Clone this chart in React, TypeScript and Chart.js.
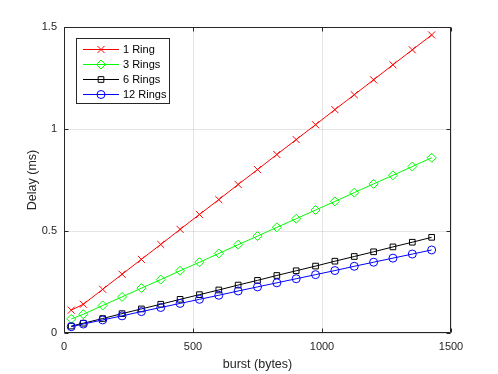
import React, { useEffect, useRef } from "react";
import { Chart, registerables } from "chart.js";
import { drawPoint } from "chart.js/helpers";

Chart.register(...registerables);

const burst = [28, 75, 150, 225, 300, 375, 450, 525, 600, 675, 750, 825, 900, 975, 1050, 1125, 1200, 1275, 1350, 1425];
const ring1 = [0.112, 0.141, 0.214, 0.288, 0.361, 0.434, 0.508, 0.581, 0.654, 0.728, 0.801, 0.875, 0.948, 1.021, 1.095, 1.168, 1.241, 1.315, 1.388, 1.461];
const ring3 = [0.069, 0.092, 0.135, 0.177, 0.22, 0.262, 0.305, 0.347, 0.39, 0.433, 0.475, 0.518, 0.56, 0.603, 0.645, 0.688, 0.731, 0.773, 0.816, 0.859];
const ring6 = [0.034, 0.048, 0.071, 0.095, 0.118, 0.141, 0.165, 0.188, 0.211, 0.235, 0.258, 0.282, 0.305, 0.328, 0.352, 0.375, 0.398, 0.422, 0.445, 0.469];
const ring12 = [0.031, 0.044, 0.064, 0.084, 0.105, 0.125, 0.145, 0.165, 0.185, 0.206, 0.226, 0.246, 0.266, 0.286, 0.306, 0.327, 0.347, 0.367, 0.387, 0.407];

const seriesLabels = ["1 Ring", "3 Rings", "6 Rings", "12 Rings"];
const xTicks = [0, 500, 1000, 1500];
const yTicks = [0, 0.5, 1, 1.5];

const FONT = "'Liberation Sans', Arial, Helvetica, sans-serif";
const AXIS = "#262626";

const frameLegendPlugin = {
  id: "frameLegend",
  afterDraw(chart: any) {
    const ctx = chart.ctx;
    const { left, right, top, bottom } = chart.chartArea;
    const xs = chart.scales.x;
    const ys = chart.scales.y;
    ctx.save();
    ctx.strokeStyle = AXIS;
    ctx.lineWidth = 1;
    const L = Math.round(left) + 0.5;
    const R = Math.round(right) - 0.5;
    const T = Math.round(top) + 0.5;
    const B = Math.round(bottom) - 0.5;
    ctx.beginPath();
    ctx.rect(L, T, R - L, B - T);
    ctx.stroke();
    // inward ticks
    const tl = 4;
    ctx.beginPath();
    for (const v of xTicks) {
      const px = Math.round(xs.getPixelForValue(v)) + 0.5;
      ctx.moveTo(px, B);
      ctx.lineTo(px, B - tl);
      ctx.moveTo(px, T);
      ctx.lineTo(px, T + tl);
    }
    for (const v of yTicks) {
      const py = Math.round(ys.getPixelForValue(v)) + 0.5;
      ctx.moveTo(L, py);
      ctx.lineTo(L + tl, py);
      ctx.moveTo(R, py);
      ctx.lineTo(R - tl, py);
    }
    ctx.stroke();

    // legend
    const bx = 76.5, by = 38.5, bw = 93, bh = 65;
    ctx.fillStyle = "#ffffff";
    ctx.fillRect(bx, by, bw, bh);
    ctx.strokeStyle = AXIS;
    ctx.strokeRect(bx, by, bw, bh);
    const rows = [49, 64, 79, 94];
    ctx.font = "11px " + FONT;
    ctx.textBaseline = "middle";
    ctx.textAlign = "left";
    chart.data.datasets.forEach((ds: any, i: number) => {
      const y = rows[i] + 0.5;
      ctx.strokeStyle = ds.borderColor;
      ctx.lineWidth = 1;
      ctx.beginPath();
      ctx.moveTo(83, y);
      ctx.lineTo(119, y);
      ctx.stroke();
      ctx.fillStyle = "rgba(0,0,0,0)";
      drawPoint(ctx, { pointStyle: ds.pointStyle, radius: ds.pointRadius, rotation: 0, borderWidth: 1 } as any, 101, y);
      ctx.fillStyle = "#000000";
      ctx.fillText(ds.label, 123, y);
    });
    ctx.restore();
  },
};

export default function App() {
  const ref = useRef<HTMLCanvasElement | null>(null);
  useEffect(() => {
    if (!ref.current) return;
    const mk = (ys: number[]) => burst.map((x, i) => ({ x, y: ys[i] }));
    const base = {
      borderWidth: 1,
      pointBorderWidth: 1,
      pointBackgroundColor: "rgba(0,0,0,0)",
      fill: false,
      tension: 0,
    };
    const chart = new Chart(ref.current, {
      type: "line",
      data: {
        datasets: [
          { ...base, label: seriesLabels[0], data: mk(ring1), borderColor: "#ff0000", pointBorderColor: "#ff0000", pointStyle: "crossRot", pointRadius: 5, order: 3 },
          { ...base, label: seriesLabels[1], data: mk(ring3), borderColor: "#00ff00", pointBorderColor: "#00ff00", pointStyle: "rectRot", pointRadius: 4.5, order: 2 },
          { ...base, label: seriesLabels[2], data: mk(ring6), borderColor: "#000000", pointBorderColor: "#000000", pointStyle: "rect", pointRadius: 4, order: 1 },
          { ...base, label: seriesLabels[3], data: mk(ring12), borderColor: "#0000ff", pointBorderColor: "#0000ff", pointStyle: "circle", pointRadius: 4, order: 0 },
        ] as any,
      },
      options: {
        animation: false,
        responsive: false,
        maintainAspectRatio: false,
        layout: { padding: { left: 0, right: 47, top: 27, bottom: 0 } },
        plugins: { legend: { display: false }, tooltip: { enabled: false } },
        scales: {
          x: {
            type: "linear",
            min: 0,
            max: 1500,
            afterFit: (s: any) => { s.height = 41; },
            afterBuildTicks: (s: any) => { s.ticks = xTicks.map((v) => ({ value: v })); },
            grid: { color: "rgba(0,0,0,0.1)", drawTicks: false },
            border: { display: false },
            ticks: { padding: 7, color: AXIS, font: { family: FONT, size: 11 }, maxRotation: 0, callback: (v: any) => String(v) },
            title: { display: true, text: "burst (bytes)", color: AXIS, font: { family: FONT, size: 12.5 }, padding: { top: 0, bottom: 2 } },
          },
          y: {
            type: "linear",
            min: 0,
            max: 1.5,
            afterFit: (s: any) => { s.width = 64; },
            afterBuildTicks: (s: any) => { s.ticks = yTicks.map((v) => ({ value: v })); },
            grid: { color: "rgba(0,0,0,0.1)", drawTicks: false },
            border: { display: false },
            ticks: { padding: 7, color: AXIS, font: { family: FONT, size: 11 }, callback: (v: any) => String(v) },
            title: { display: true, text: "Delay (ms)", color: AXIS, font: { family: FONT, size: 12.5 }, padding: { top: 25, bottom: 0 } },
          },
        },
      },
      plugins: [frameLegendPlugin],
    });
    return () => chart.destroy();
  }, []);
  return (
    <div style={{ position: "fixed", left: 0, top: 0, width: 498, height: 374, background: "#ffffff" }}>
      <canvas ref={ref} width={498} height={374} style={{ display: "block", width: 498, height: 374 }} />
    </div>
  );
}
